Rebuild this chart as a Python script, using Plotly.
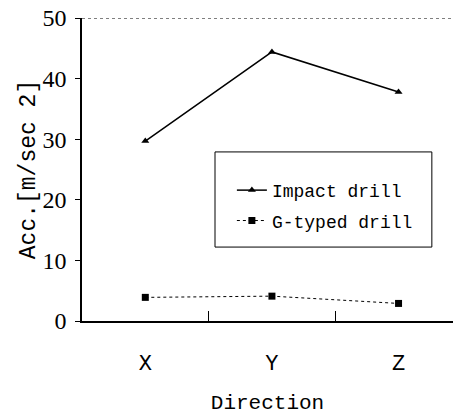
import plotly.graph_objects as go

directions = ["X", "Y", "Z"]
impact_drill = [29.7, 44.4, 37.8]
g_typed_drill = [3.9, 4.1, 2.9]
y_ticks = [0, 10, 20, 30, 40, 50]

fig = go.Figure()
fig.add_trace(go.Scatter(
    x=directions, y=impact_drill, name="Impact drill", mode="lines+markers",
    legendgroup="a",
    line=dict(color="black", width=1.5),
    marker=dict(symbol="triangle-up", size=7, color="black"),
))
fig.add_trace(go.Scatter(
    x=directions, y=g_typed_drill, name="G-typed drill", mode="lines+markers",
    legendgroup="b",
    line=dict(color="black", width=1, dash="dot"),
    marker=dict(symbol="square", size=7, color="black"),
))

# dotted top frame line
fig.add_shape(type="line", xref="paper", yref="y", x0=0, x1=1, y0=50, y1=50,
              line=dict(color="black", width=1, dash="dot"))
# legend frame
fig.add_shape(type="rect", xref="paper", yref="paper",
              x0=0.3585, x1=0.943, y0=0.244, y1=0.558,
              line=dict(color="black", width=1), fillcolor="rgba(0,0,0,0)")

fig.update_layout(
    width=453, height=417,
    margin=dict(l=82, r=0, t=18, b=96),
    paper_bgcolor="white", plot_bgcolor="white",
    font=dict(family="Liberation Mono", size=19, color="black"),
    showlegend=True,
    legend=dict(x=0.404, y=0.492, xanchor="left", yanchor="top",
                borderwidth=0, bgcolor="rgba(0,0,0,0)",
                font=dict(size=18), itemwidth=30, tracegroupgap=4),
    xaxis=dict(type="category", range=[-0.5, 2.43], tickson="boundaries",
               ticks="inside", ticklen=10, tickcolor="black", tickwidth=1,
               showline=True, linecolor="black", linewidth=1.5, showgrid=False,
               zeroline=False, automargin=False,
               ticklabelstandoff=21,
               title=dict(text="Direction", standoff=18, font=dict(size=21)),
               tickfont=dict(size=22)),
    yaxis=dict(range=[0, 50], tickvals=y_ticks, ticks="outside", ticklen=5,
               tickcolor="black", showline=True, linecolor="black", linewidth=1.5,
               showgrid=False, zeroline=False, automargin=False,
               ticklabeloverflow="allow", ticklabelstandoff=4,
               tickfont=dict(family="Liberation Serif", size=24),
               title=dict(text="Acc.[m/sec 2]", standoff=0, font=dict(size=23))),
)

fig.write_html("out.html", config={"displayModeBar": False},
               post_script="document.body.style.margin='0';")
